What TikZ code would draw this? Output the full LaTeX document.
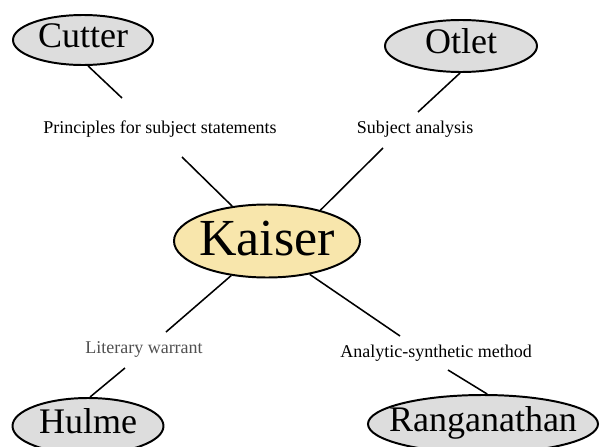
\documentclass[tikz,border=0pt]{standalone}
\usepackage{fontspec}
\setmainfont{Liberation Serif}
\usepackage{tikz}
\usetikzlibrary{shapes.geometric}
\definecolor{nameGray}{RGB}{221,221,221}
\definecolor{kaiserTan}{RGB}{248,230,172}
\definecolor{warrantGray}{RGB}{80,80,80}

\begin{document}
\begin{tikzpicture}[x=0.025cm,y=-0.025cm,
	person/.style={ellipse,draw,line width=1.4pt,fill=nameGray,inner xsep=-0.4cm,inner ysep=-0.1cm,
		font=\fontsize{25.6}{28}\selectfont,text height=17pt,text depth=7pt},
	topic/.style={inner sep=0pt,anchor=base,font=\fontsize{12.8}{15}\selectfont},
	link/.style={line width=1.1pt}]
	\newcommand{\px}{0.025cm}
	\useasboundingbox (0,0) rectangle (600,447);

	% names
	\node[person,minimum width=140*\px,minimum height=50*\px] (cutter) at (83,40) {Cutter};
	\node[person,minimum width=152*\px,minimum height=52*\px] (otlet) at (461,46) {Otlet};
	\node[person,fill=kaiserTan,font=\fontsize{37}{40}\selectfont,text height=25.6pt,text depth=4.3pt,
		minimum width=186*\px,minimum height=73*\px] (kaiser) at (267,241) {Kaiser};
	\node[person,minimum width=151*\px,minimum height=56*\px] (hulme) at (88,426) {Hulme};
	\node[person,minimum width=230*\px,minimum height=58*\px] (ranganathan) at (483,424) {Ranganathan};

	% topics
	\node[topic] (principles) at (160,133) {Principles for subject statements};
	\node[topic] (analysis) at (415,133) {Subject analysis};
	\node[topic,text=warrantGray] (warrant) at (144,353) {Literary warrant};
	\node[topic] (method) at (436,357) {Analytic-synthetic method};

	% free line ends
	\coordinate (principlesTop) at (122,98);
	\coordinate (principlesBottom) at (182,157);
	\coordinate (analysisTop) at (418,112);
	\coordinate (analysisBottom) at (383,148);
	\coordinate (warrantTop) at (166,332);
	\coordinate (warrantBottom) at (125,368);
	\coordinate (methodTop) at (400,336);
	\coordinate (methodBottom) at (448,370);

	% links
	\draw[link] (cutter.-79) -- (principlesTop);
	\draw[link] (principlesBottom) -- (kaiser.135);
	\draw[link] (otlet.-92) -- (analysisTop);
	\draw[link] (analysisBottom) -- (kaiser.30);
	\draw[link] (kaiser.224) -- (warrantTop);
	\draw[link] (warrantBottom) -- (hulme.86);
	\draw[link] (kaiser.-38) -- (methodTop);
	\draw[link] (methodBottom) -- (ranganathan.82);
\end{tikzpicture}
\end{document}
